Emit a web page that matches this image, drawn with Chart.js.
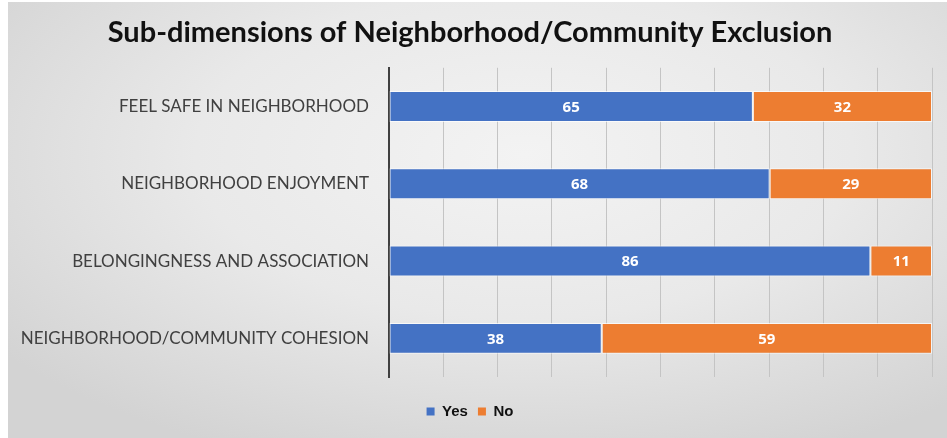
<!DOCTYPE html>
<html>
<head>
<meta charset="utf-8">
<script src="https://cdn.jsdelivr.net/npm/chart.js@4.4.1/dist/chart.umd.min.js"></script>
<style>
  html, body { margin: 0; padding: 0; }
  body { width: 947px; height: 438px; background: #fff; }
  #wrap {
    position: absolute; left: 8px; top: 2px; width: 939px; height: 436px;
    background: radial-gradient(ellipse 70% 75% at 55% 35%, #f3f3f3 0%, #e9e9e9 50%, #d3d3d3 100%);
  }
  #chart { position: absolute; left: 0; top: 0; }
</style>
</head>
<body>
<div id="wrap"></div>
<canvas id="chart" width="947" height="438"></canvas>
<script>
const categories = [
  "FEEL SAFE IN NEIGHBORHOOD",
  "NEIGHBORHOOD ENJOYMENT",
  "BELONGINGNESS AND ASSOCIATION",
  "NEIGHBORHOOD/COMMUNITY COHESION"
]
const yesValues = [65, 68, 86, 38]
const noValues = [32, 29, 11, 59]

const blue = "#4472C4"
const orange = "#ED7D31"

// widest stacked total sets the end of the value axis, split in 10 gridline steps
const total = Math.max(...yesValues.map((v, i) => v + noValues[i]))

// white value labels centred in each segment
const barLabels = {
  id: "barLabels",
  afterDatasetsDraw(chart) {
    const ctx = chart.ctx
    ctx.save()
    ctx.fillStyle = "#ffffff"
    ctx.font = "bold 15px 'Open Sans'"
    ctx.textAlign = "center"
    ctx.textBaseline = "middle"
    chart.data.datasets.forEach((ds, di) => {
      chart.getDatasetMeta(di).data.forEach((bar, i) => {
        const x = (bar.x + bar.base) / 2
        ctx.fillText(ds.data[i], x, bar.y + 1)
      })
    })
    ctx.restore()
  }
}

const canvas = document.querySelector("#chart")

new Chart(canvas, {
  type: "bar",
  data: {
    labels: categories,
    datasets: [
      { label: "Yes", data: yesValues, backgroundColor: blue, borderColor: "rgba(255,255,255,0.7)", borderWidth: 1, borderSkipped: false },
      { label: "No", data: noValues, backgroundColor: orange, borderColor: "rgba(255,255,255,0.7)", borderWidth: 1, borderSkipped: false }
    ]
  },
  options: {
    indexAxis: "y",
    responsive: false,
    animation: false,
    layout: { padding: { left: 8, right: 15, top: 0, bottom: 9 } },
    datasets: { bar: { categoryPercentage: 1, barPercentage: 0.4 } },
    scales: {
      x: {
        stacked: true,
        min: 0,
        max: total,
        afterBuildTicks(scale) {
          scale.ticks = Array.from({ length: 11 }, (_, i) => ({ value: total * i / 10 }))
        },
        afterFit(scale) { scale.height = 17 },
        ticks: { display: false },
        grid: { color: "#c4c4c4", lineWidth: 1, drawTicks: false },
        border: { display: false }
      },
      y: {
        stacked: true,
        afterFit(scale) { scale.width = 381 },
        grid: { display: false },
        border: { display: true, color: "#404040", width: 2 },
        ticks: {
          color: "#404040",
          padding: 12,
          font: { family: "Lato", size: 17 }
        }
      }
    },
    plugins: {
      title: {
        display: true,
        text: "Sub-dimensions of Neighborhood/Community Exclusion",
        color: "#111111",
        font: { family: "Lato", size: 29, weight: "bold" },
        padding: { top: 15, bottom: 18 }
      },
      legend: {
        position: "bottom",
        labels: {
          boxWidth: 8,
          boxHeight: 8,
          padding: 10,
          color: "#111111",
          font: { family: "'Liberation Sans'", size: 15, weight: "bold" },
          generateLabels(chart) {
            return chart.data.datasets.map((ds, i) => ({
              text: ds.label,
              fillStyle: ds.backgroundColor,
              strokeStyle: ds.backgroundColor,
              lineWidth: 0,
              fontColor: "#111111",
              datasetIndex: i
            }))
          }
        }
      },
      tooltip: { enabled: false }
    }
  },
  plugins: [barLabels]
})
</script>
</body>
</html>
